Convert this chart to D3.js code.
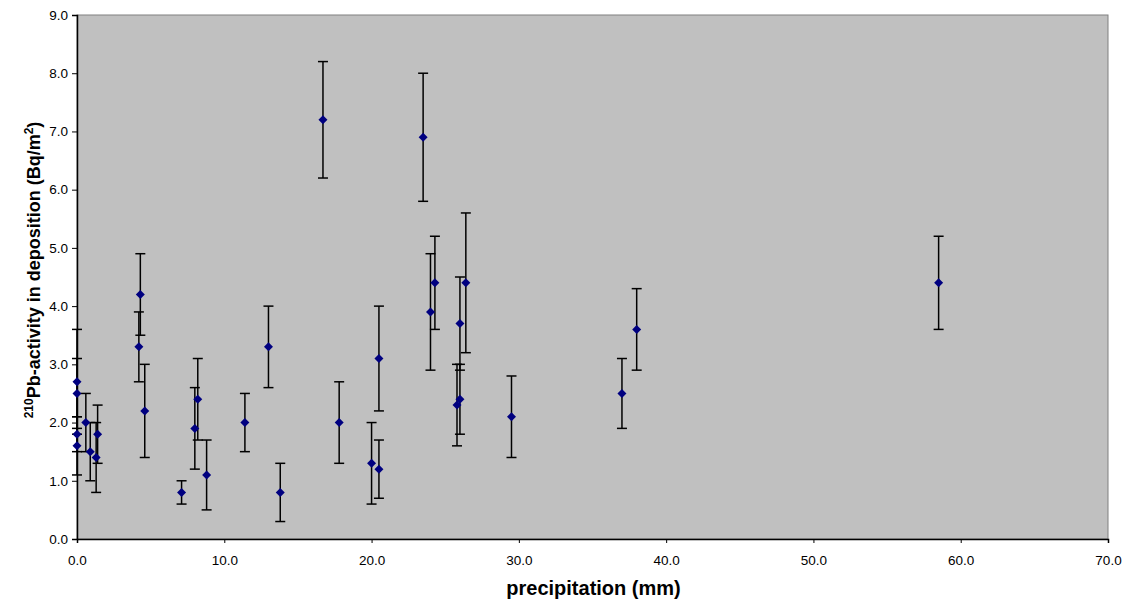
<!DOCTYPE html>
<html>
<head>
<meta charset="utf-8">
<script src="https://cdn.jsdelivr.net/npm/d3@7"></script>
<style>
  body { margin: 0; background: #fff; }
  svg { display: block; font-family: "Liberation Sans", Arial, sans-serif; }
</style>
</head>
<body>
<svg id="chart"></svg>
<script>
// precipitation (mm)
const precip = [0, 0, 0, 0, 0.6, 0.9, 1.3, 1.4, 4.2, 4.3, 4.6, 7.1, 8.0, 8.2, 8.8,
  11.4, 13.0, 13.8, 16.7, 17.8, 20.0, 20.5, 20.5, 23.5, 24.0, 24.3,
  25.8, 26.0, 26.0, 26.4, 29.5, 37.0, 38.0, 58.5];
// 210Pb activity (Bq/m2)
const activity = [2.7, 2.5, 1.8, 1.6, 2.0, 1.5, 1.4, 1.8, 3.3, 4.2, 2.2, 0.8, 1.9, 2.4, 1.1,
  2.0, 3.3, 0.8, 7.2, 2.0, 1.3, 1.2, 3.1, 6.9, 3.9, 4.4,
  2.3, 2.4, 3.7, 4.4, 2.1, 2.5, 3.6, 4.4];
// error (+/-)
const err = [0.9, 0.6, 0.3, 0.5, 0.5, 0.5, 0.6, 0.5, 0.6, 0.7, 0.8, 0.2, 0.7, 0.7, 0.6,
  0.5, 0.7, 0.5, 1.0, 0.7, 0.7, 0.5, 0.9, 1.1, 1.0, 0.8,
  0.7, 0.6, 0.8, 1.2, 0.7, 0.6, 0.7, 0.8];

const xTicks = [0, 10, 20, 30, 40, 50, 60, 70];
const yTicks = [0, 1, 2, 3, 4, 5, 6, 7, 8, 9];

const width = 1129, height = 607;
const margin = { top: 15, right: 21, bottom: 68, left: 77 };

const svg = d3.select("#chart")
    .attr("width", width)
    .attr("height", height);

const data = precip.map((p, i) => ({ x: p, y: activity[i], e: err[i] }));

const x = d3.scaleLinear().domain([0, 70]).range([margin.left, width - margin.right]);
const y = d3.scaleLinear().domain([0, 9]).range([height - margin.bottom, margin.top]);

// plot area
svg.append("rect")
    .attr("x", x(0))
    .attr("y", y(9))
    .attr("width", x(70) - x(0))
    .attr("height", y(0) - y(9))
    .attr("fill", "#c0c0c0")
    .attr("stroke", "#808080")
    .attr("stroke-width", 1);

// axes
const fmt = d3.format(".1f");
const xAxis = svg.append("g")
    .attr("transform", `translate(0,${y(0)})`)
    .call(d3.axisBottom(x).tickValues(xTicks).tickFormat(fmt).tickSize(4).tickPadding(12));
const yAxis = svg.append("g")
    .attr("transform", `translate(${x(0)},0)`)
    .call(d3.axisLeft(y).tickValues(yTicks).tickFormat(fmt).tickSize(5).tickPadding(4));

[xAxis, yAxis].forEach(g => {
    g.select(".domain").attr("stroke", "#000").attr("stroke-width", 1.5);
    g.selectAll(".tick line").attr("stroke", "#000");
    g.selectAll("text")
        .attr("fill", "#000")
        .style("font-family", "'Liberation Sans', Arial, sans-serif")
        .style("font-size", "13.5px");
});

// error bars
const eb = svg.append("g");
const capW = 5;
data.forEach(d => {
    const g = eb.append("g").attr("stroke", "#000").attr("stroke-width", 1.5);
    g.append("line")
        .attr("x1", x(d.x)).attr("x2", x(d.x))
        .attr("y1", y(d.y - d.e)).attr("y2", y(d.y + d.e));
    [d.y - d.e, d.y + d.e].forEach(v => {
        g.append("line")
            .attr("x1", x(d.x) - capW).attr("x2", x(d.x) + capW)
            .attr("y1", y(v)).attr("y2", y(v));
    });
});

// diamond markers
svg.append("g")
    .selectAll("path")
    .data(data)
    .join("path")
    .attr("transform", d => `translate(${x(d.x)},${y(d.y)})`)
    .attr("d", "M0,-4.5 L4.5,0 L0,4.5 L-4.5,0 Z")
    .attr("fill", "#000080");

// axis titles
svg.append("text")
    .attr("x", (x(0) + x(70)) / 2 + 1)
    .attr("y", 595)
    .attr("text-anchor", "middle")
    .attr("font-size", "20px")
    .attr("font-weight", "bold")
    .text("precipitation (mm)");

const yt = svg.append("text")
    .attr("transform", `translate(40,270) rotate(-90)`)
    .attr("text-anchor", "middle")
    .attr("font-size", "18px")
    .attr("font-weight", "bold");
yt.append("tspan").attr("font-size", "12px").attr("dy", "-7").text("210");
yt.append("tspan").attr("dy", "7").text("Pb-activity in deposition (Bq/m");
yt.append("tspan").attr("font-size", "12px").attr("dy", "-7").text("2");
yt.append("tspan").attr("dy", "7").text(")");
</script>
</body>
</html>
